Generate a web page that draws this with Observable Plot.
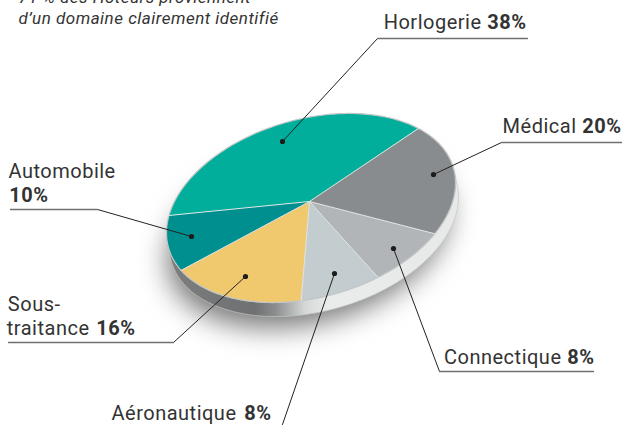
<!DOCTYPE html>
<html><head><meta charset="utf-8">
<script src="https://cdn.jsdelivr.net/npm/d3@7"></script>
<script src="https://cdn.jsdelivr.net/npm/@observablehq/plot@0.6"></script>
<style>html,body{margin:0;padding:0;background:#fff}svg{display:block}svg text{letter-spacing:.5px}</style>
</head><body><div id="chart"></div>
<script>
// Labelled shares
const names = ["Médical","Connectique","Aéronautique","Sous-traitance","Automobile","Horlogerie"];
const labelPct = [20,8,8,16,10,38];
// Share of the rim each slice takes in the picture (the artwork's apex sits off-centre)
const rimPct = [20.3,8.7,8.75,16.7,10.2,35.35];
const colors = ["#898c8e","#b2b5b7","#c3cccf","#f0c96e","#008f8f","#00ae9b"];

// Tilted disc
const disc = {cx:310.5, cy:207.5, a:144.5, c:-24.9, d:91.2, start:-42, apexX:309, apexY:201, dx:3, dy:14};
const rad = Math.PI/180;
const rim = (deg, ox=0, oy=0, k=1) => ({
  x: disc.cx + ox + k*disc.a*Math.cos(deg*rad),
  y: disc.cy + oy + k*(disc.c*Math.cos(deg*rad) + disc.d*Math.sin(deg*rad))
});
const arc = (from,to,ox=0,oy=0,k=1) => {
  const n = Math.max(2,Math.ceil(Math.abs(to-from)));
  return d3.range(n+1).map(i => rim(from+(to-from)*i/n,ox,oy,k));
};
let acc = disc.start;
const slices = [], seams = [];
names.forEach((name,i) => {
  const to = acc + rimPct[i]*3.6;
  const apex = {x:disc.apexX,y:disc.apexY};
  [apex,...arc(acc,to)].forEach(p => slices.push({...p,name}));
  seams.push({id:i,...apex}); seams.push({id:i,...rim(acc)});
  acc = to;
});
const wall = [...arc(-8,173), ...arc(173,-8,disc.dx,disc.dy)];
const whole = arc(0,360);
const shadow = arc(0,360,-3,28,0.97);

// Leader lines
const leaders = [
  {dot:[282,141], path:[[282,141],[377,38],[527,38]]},
  {dot:[433,174], path:[[433,174],[501,142],[621,142]]},
  {dot:[393,248], path:[[393,248],[439,371],[593,371]]},
  {dot:[334,273], path:[[334,273],[282,424]]},
  {dot:[245,276], path:[[245,276],[173,342],[8,342]]},
  {dot:[191,236], path:[[191,236],[97,209],[10,209]]}
];
const leaderPts = leaders.flatMap((l,id) => l.path.map(([x,y]) => ({id,x,y})));
const rules = leaders.filter(l=>l.path.length>2).flatMap((l,id)=>l.path.slice(1).map(([x,y])=>({id,x,y})));
const dots = leaders.map(l => ({x:l.dot[0],y:l.dot[1]}));

// Text
const font = "Roboto, sans-serif";
const regular = [
  {t:"Horlogerie",x:481,y:28},
  {t:"Médical",x:576,y:132},
  {t:"Connectique",x:561,y:363},
  {t:"Aéronautique",x:236,y:419},
  {t:"traitance",x:89,y:334},
  {t:"Sous-",x:60,y:310}
];
const bold = [
  {t:"38%",x:526,y:28},
  {t:"20%",x:621,y:132},
  {t:"8%",x:594,y:363},
  {t:"8%",x:271,y:419},
  {t:"16%",x:135,y:334},
  {t:"10%",x:48,y:201}
];
const automobile = [{t:"Automobile",x:8,y:177}];
const intro = [
  {t:"71 % des Hôteurs proviennent",x:18,y:2},
  {t:"d’un domaine clairement identifié",x:18,y:23}
];

const txt = (data,opts) => Plot.text(data,{x:"x",y:"y",text:"t",fontFamily:font,fontSize:20,lineAnchor:"bottom",fill:"#333",...opts});

const chart = Plot.plot({
  width:623, height:425, margin:0,
  style:{background:"#fff"},
  x:{domain:[0,623],range:[0,623],axis:null},
  y:{domain:[0,425],range:[0,425],axis:null},
  color:{domain:names,range:colors},
  marks:[
    () => {
      const ns="http://www.w3.org/2000/svg";
      const defs=document.createElementNS(ns,"defs");
      const g=document.createElementNS(ns,"linearGradient");
      g.setAttribute("id","wallGrad");g.setAttribute("gradientUnits","userSpaceOnUse");
      g.setAttribute("x1",166);g.setAttribute("x2",460);g.setAttribute("y1",0);g.setAttribute("y2",0);
      [[0,"#7c7e80"],[.3,"#6e7072"],[.37,"#8b8d8e"],[.47,"#d4d7d6"],[.55,"#e9ecea"],[1,"#e6e9e7"]].forEach(([o,c])=>{
        const s=document.createElementNS(ns,"stop");s.setAttribute("offset",o);s.setAttribute("stop-color",c);g.appendChild(s);
      });
      defs.appendChild(g);return defs;
    },
    Plot.line(shadow,{x:"x",y:"y",curve:"linear-closed",fill:"#777",stroke:"none",imageFilter:"blur(14px)"}),
    Plot.line(wall,{x:"x",y:"y",curve:"linear-closed",fill:"url(#wallGrad)",stroke:"#c4c7c6",strokeWidth:0.7}),
    Plot.line(slices,{x:"x",y:"y",z:"name",fill:"name",stroke:"none",curve:"linear-closed"}),
    Plot.line(whole,{x:"x",y:"y",stroke:"#c3c6c6",strokeWidth:1.2}),
    Plot.line(seams,{x:"x",y:"y",z:"id",stroke:"#e2e7e6",strokeWidth:1}),
    Plot.line(leaderPts,{x:"x",y:"y",z:"id",stroke:"#222",strokeWidth:1}),
    Plot.line(rules,{x:"x",y:"y",z:"id",stroke:"#6f6f6f",strokeWidth:1.3}),
    Plot.dot(dots,{x:"x",y:"y",r:2.6,fill:"#1c1c1c"}),
    txt(regular,{textAnchor:"end"}),
    txt(bold,{textAnchor:"end",fontWeight:"bold"}),
    txt(automobile,{textAnchor:"start"}),
    txt(intro,{textAnchor:"start",fontStyle:"italic",fontSize:17})
  ]
});
document.getElementById("chart").appendChild(chart);
</script></body></html>
